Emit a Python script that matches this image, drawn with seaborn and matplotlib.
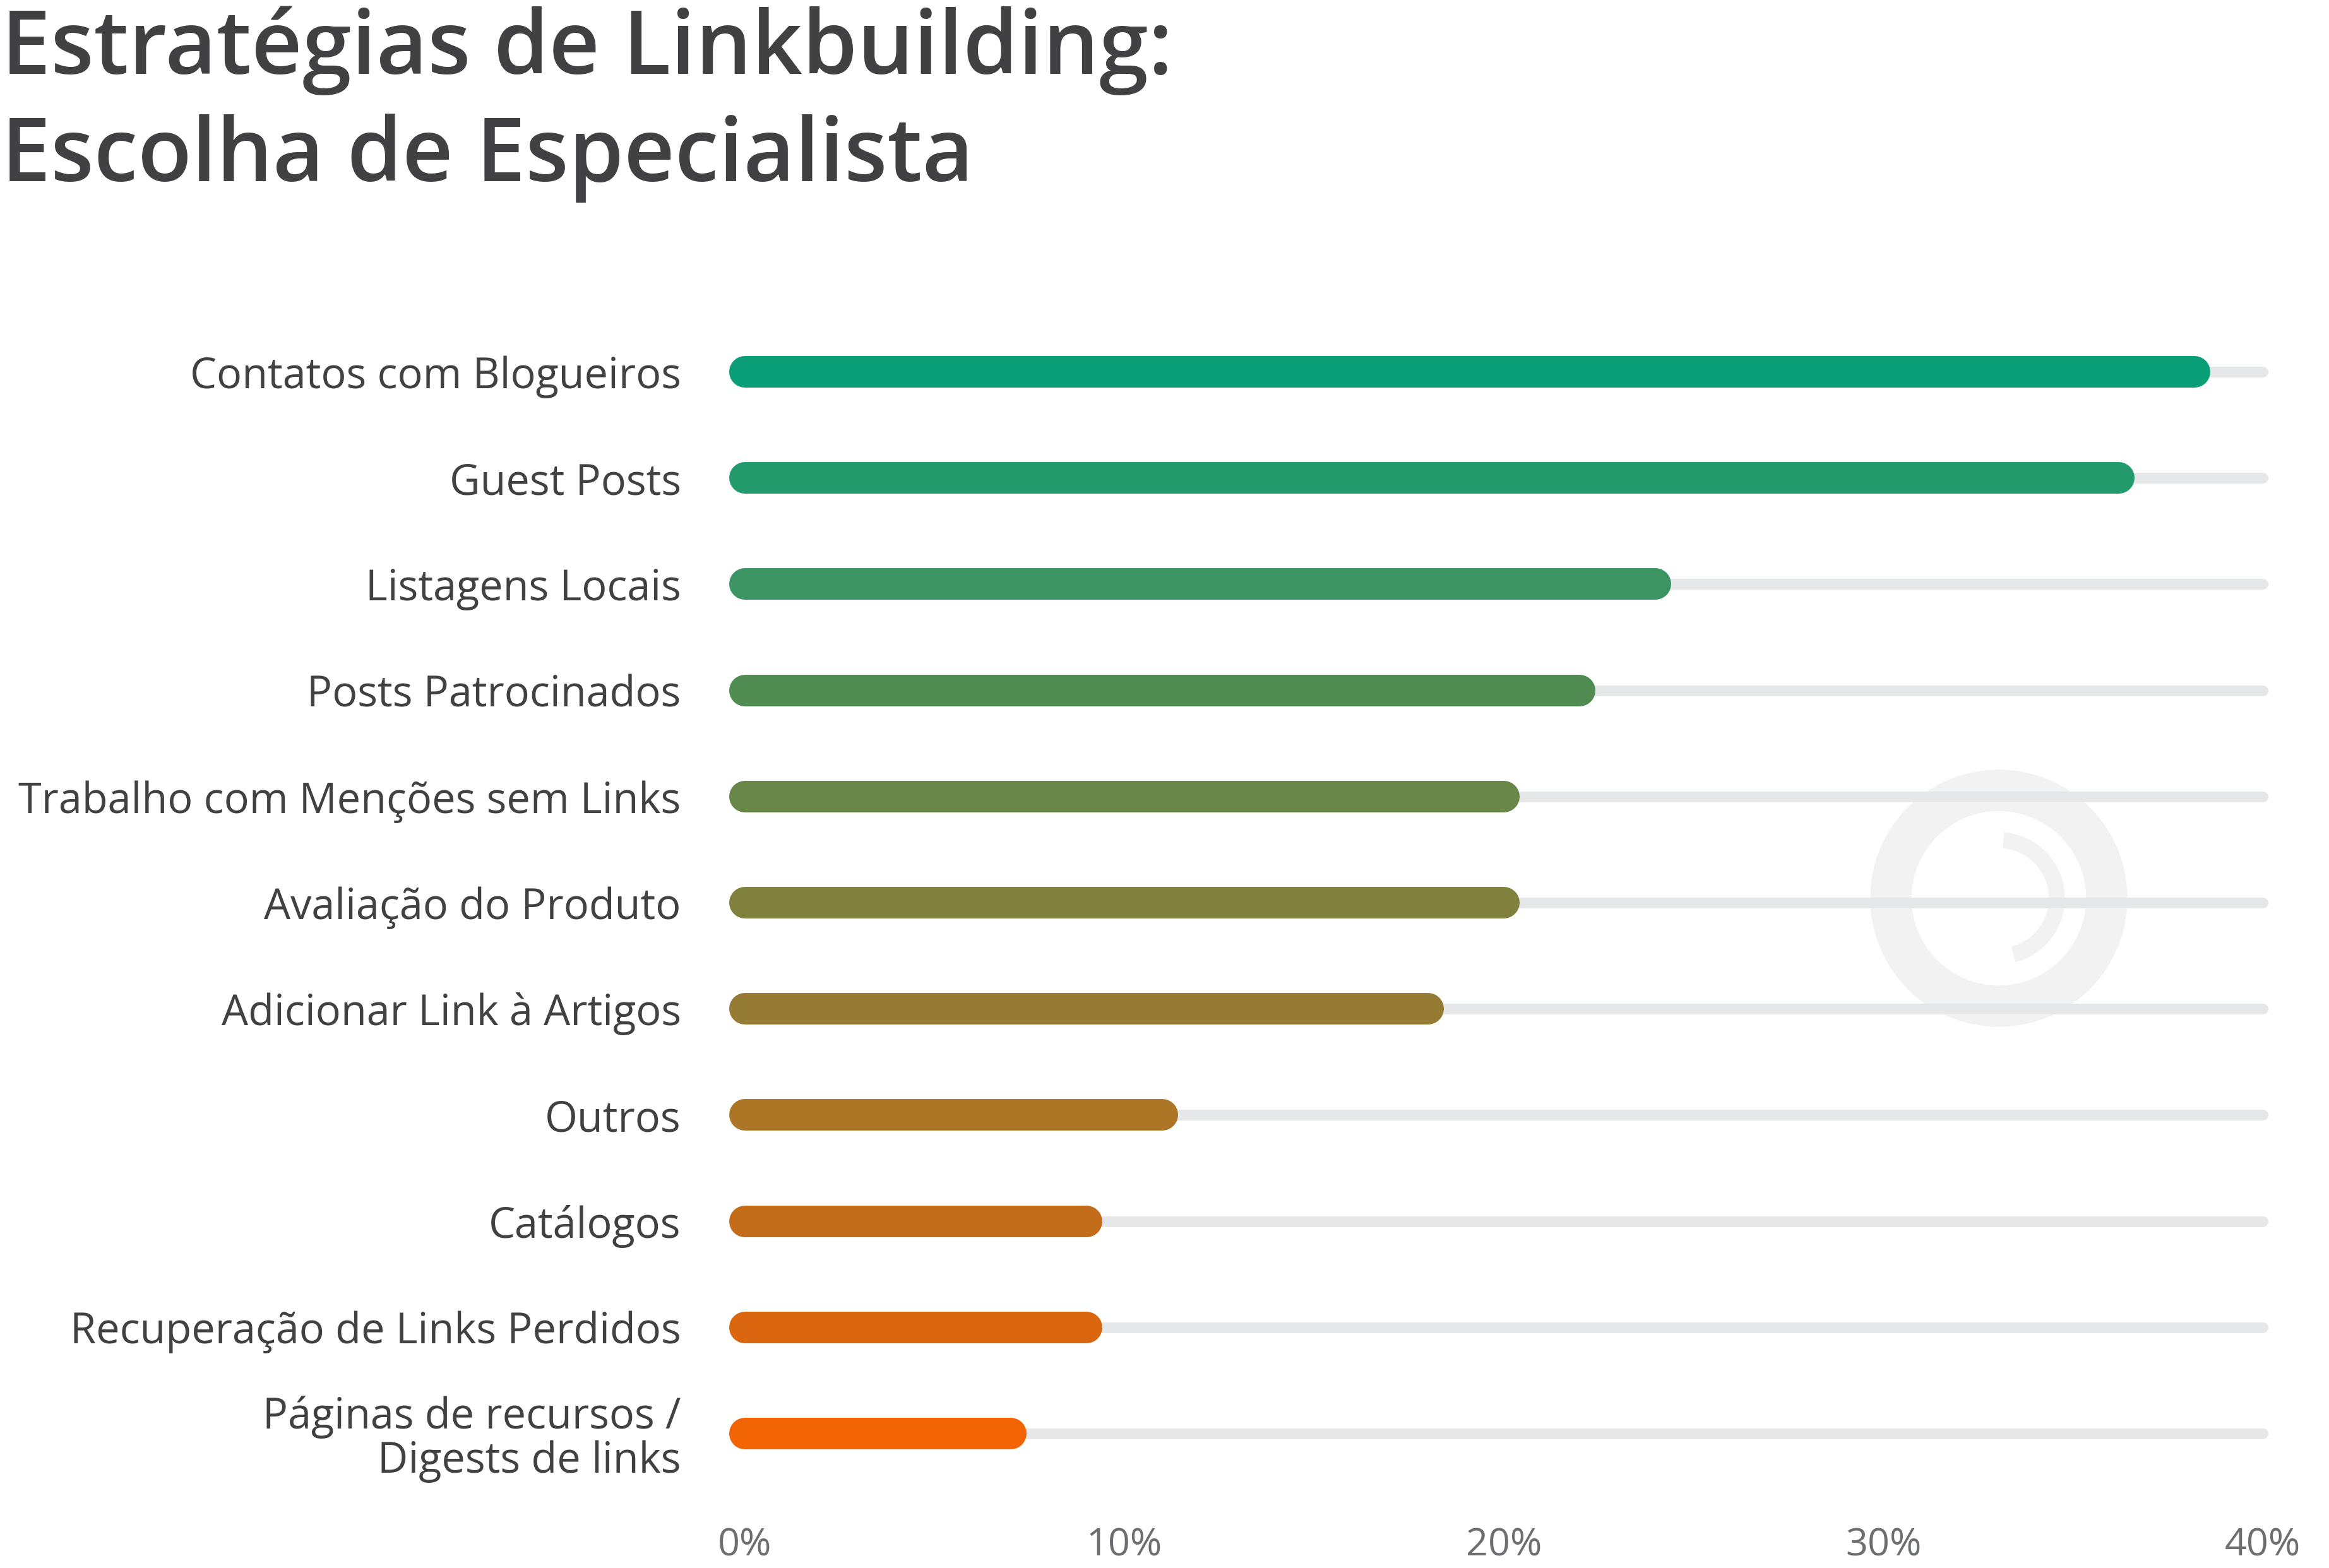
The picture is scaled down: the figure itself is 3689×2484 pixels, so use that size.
import pandas as pd
import seaborn as sns
import matplotlib.pyplot as plt
from matplotlib.patches import Wedge
from matplotlib.transforms import IdentityTransform

# Data
categories = [
    "Contatos com Blogueiros",
    "Guest Posts",
    "Listagens Locais",
    "Posts Patrocinados",
    "Trabalho com Menções sem Links",
    "Avaliação do Produto",
    "Adicionar Link à Artigos",
    "Outros",
    "Catálogos",
    "Recuperação de Links Perdidos",
    "Páginas de recursos /\nDigests de links",
]
shares = [38.2, 36.2, 24, 22, 20, 20, 18, 11, 9, 9, 7]
bar_colors = ["#0a9e76", "#229a6b", "#3b9461", "#508c52", "#688647", "#80813d",
              "#957b34", "#ad7626", "#c36d1b", "#da6710", "#f26403"]
x_ticks = [0, 10, 20, 30, 40]
x_max = 40

df = pd.DataFrame({
    "estrategia": categories,
    "share": shares,
    "track": [x_max] * len(categories),
})

sns.set_theme(style="white")
plt.rcParams["font.family"] = ["Open Sans", "DejaVu Sans"]

W, H = 3689, 2484
fig = plt.figure(figsize=(W / 100, H / 100), dpi=100)
ax = fig.add_axes([1144 / W, 129 / H, 2476 / W, 1850 / H])
ax.set_facecolor("none")

# faint logo ring in the background
wm = "#f2f2f2"
fig.add_artist(Wedge((3166, H - 1423), 203, 0, 360, width=64, color=wm,
                     transform=IdentityTransform(), zorder=-5))
fig.add_artist(Wedge((3166, H - 1423), 104, -75, 85, width=24, color=wm,
                     transform=IdentityTransform(), zorder=-5))

# grey tracks up to 40%, then the coloured bars
sns.barplot(data=df, x="track", y="estrategia", color="#e6e7e8", saturation=1,
            width=0.3, ax=ax)
n_track = len(ax.patches)
sns.barplot(data=df, x="share", y="estrategia", hue="estrategia", palette=bar_colors,
            saturation=1, width=0.3, legend=False, ax=ax)

# turn each bar into a round-capped stroke along its centre
for i, p in enumerate(list(ax.patches)):
    yc = p.get_y() + p.get_height() / 2
    is_track = i < n_track
    ax.plot([p.get_x(), p.get_x() + p.get_width()], [yc, yc],
            color=p.get_facecolor(), lw=12.2 if is_track else 36,
            solid_capstyle="round", zorder=2 if is_track else 3, clip_on=False)
    p.set_visible(False)

ax.set_xlim(-0.6, x_max + 0.6)
ax.set_ylim(len(categories) - 0.5, -0.5)
ax.set_xticks(x_ticks)
ax.set_xticklabels([f"{t}%" for t in x_ticks])
ax.set_xlabel("")
ax.set_ylabel("")
sns.despine(ax=ax, left=True, bottom=True)
ax.tick_params(axis="y", length=0, pad=47, labelsize=48, labelcolor="#414042")
ax.tick_params(axis="x", length=0, pad=46, labelsize=44, labelcolor="#6d6e71")
for lbl in ax.get_yticklabels():
    lbl.set_linespacing(1.05)

fig.text(2 / W, 1 - 287 / H, "Estratégias de Linkbuilding:\nEscolha de Especialista",
         fontsize=101, fontweight="semibold", color="#414042",
         ha="left", va="baseline", linespacing=1.27)

fig.savefig("out.png", dpi=100)
